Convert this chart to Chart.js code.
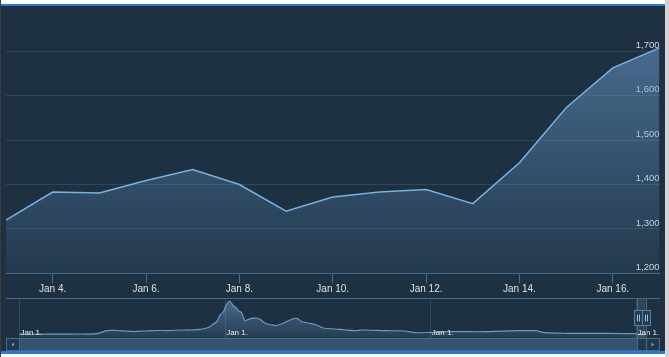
<!DOCTYPE html>
<html><head><meta charset="utf-8">
<script src="https://cdn.jsdelivr.net/npm/chart.js@4/dist/chart.umd.min.js"></script>
<style>
html,body{margin:0;padding:0;background:#fff;overflow:hidden}
body{width:669px;height:357px;position:relative;font-family:"Liberation Sans",Arial,sans-serif}
#frame{position:absolute;left:1px;top:6px;width:664px;height:345px;background:#1d3142}
#topbar{position:absolute;left:1px;top:4px;width:664px;height:2px;background:#2d7ad2}
#botbar{position:absolute;left:1px;top:351px;width:664px;height:3px;background:#2d7ad2}
#ledge{position:absolute;left:0;top:0;width:1px;height:357px;background:#3c3c3c}
#redge{position:absolute;left:665px;top:0;width:4px;height:357px;background:#d4d4d4}
#mainc{position:absolute;left:0;top:6px}
#navc{position:absolute;left:0;top:298px}
</style></head>
<body>
<div id="frame"></div><div id="topbar"></div><div id="botbar"></div><div id="ledge"></div><div id="redge"></div>
<canvas id="mainc" width="665" height="292"></canvas>
<canvas id="navc" width="665" height="53"></canvas>
<script>
// ---- data ----
const mainDays   = [3,4,5,6,7,8,9,10,11,12,13,14,15,16,17];
const mainValues = [1320,1383,1381,1409,1434,1400,1340,1372,1383,1389,1357,1449,1573,1663,1708];
const xTickDays   = [4,6,8,10,12,14,16];
const xTickLabels = ['Jan 4.','Jan 6.','Jan 8.','Jan 10.','Jan 12.','Jan 14.','Jan 16.'];
const yTickValues = [1200,1300,1400,1500,1600,1700];
const yTickLabels = ['1,200','1,300','1,400','1,500','1,600','1,700'];
// navigator history (days since first Jan 1.)
const navHistDays   = [0,36,72,107,138,155,173,187,201,223,244,267,285,303,320,329,338,343,350,356,362,366,373,379,385,390,394,400,406,412,420,427,436,448,456,468,480,492,501,508,515,527,539,560,578,595,608,649,684,702,732,768,826,885,915,932,974,1034,1093];
const navHistValues = [1490,1530,1580,1630,1770,3180,3270,3040,2800,3040,3270,3270,3510,3510,3840,4210,5060,6090,7410,10560,12110,14790,17140,15020,13710,12200,11730,7880,8440,9010,9150,8540,6660,5860,5620,6660,8210,9010,7410,7030,6660,5860,4450,3980,3510,3180,3510,3180,3040,2240,2430,2710,2710,3180,3180,2240,1960,1960,1770];
const navTickDays   = [0,365,730,1095];
const navTickLabels = ['Jan 1.','Jan 1.','Jan 1.','Jan 1.'];
const lastYearOffset = 1094;

const navPoints = navHistDays.map((d,i)=>({x:d,y:navHistValues[i]}))
  .concat(mainDays.map((d,i)=>({x:d+lastYearOffset,y:mainValues[i]})));
const selStart = mainDays[0]+lastYearOffset, selEnd = mainDays[mainDays.length-1]+lastYearOffset;

const AXIS='#49698a', GRID='#2c475c', FONT='"Liberation Sans", Arial, sans-serif';

function grad(ctx, top, bot){
  const {chart}=ctx; const ca=chart.chartArea; if(!ca) return 'rgba(110,160,210,0.3)';
  const g=chart.ctx.createLinearGradient(0,ca.top,0,ca.bottom);
  g.addColorStop(0,`rgba(110,160,210,${top})`); g.addColorStop(1,`rgba(110,160,210,${bot})`);
  return g;
}
const noPad = s=>{s.paddingTop=0;s.paddingBottom=0;s.paddingLeft=0;s.paddingRight=0;};

new Chart(document.getElementById('mainc'),{
  type:'line',
  data:{datasets:[{data:mainDays.map((d,i)=>({x:d,y:mainValues[i]})),
    borderColor:'#7ab0e2',borderWidth:1.5,pointRadius:0,tension:0,fill:'start',
    backgroundColor:c=>grad(c,0.6,0.08)}]},
  options:{responsive:false,animation:false,events:[],
    layout:{padding:{left:6,right:5.5,top:1,bottom:0}},
    plugins:{legend:{display:false},tooltip:{enabled:false}},
    scales:{
      x:{type:'linear',min:mainDays[0],max:mainDays[mainDays.length-1],
        afterBuildTicks:s=>{s.ticks=xTickDays.map(v=>({value:v}));},
        afterFit:s=>{s.height=24.7;noPad(s);},
        grid:{drawOnChartArea:false,drawTicks:true,tickLength:10,tickColor:AXIS,tickWidth:1},
        border:{color:AXIS,width:1},
        ticks:{autoSkip:false,maxRotation:0,padding:0,color:'#dde1e6',font:{family:FONT,size:10},
          callback:(v,i)=>xTickLabels[i]}},
      y:{type:'linear',position:'right',min:1200,max:1800,
        afterBuildTicks:s=>{s.ticks=yTickValues.map(v=>({value:v}));},
        afterFit:s=>{s.width=0;noPad(s);},
        grid:{color:GRID,drawTicks:false},
        border:{display:false},
        ticks:{mirror:true,padding:0,labelOffset:-6,color:'#d4d8dd',font:{family:FONT,size:9.5},
          callback:(v,i)=>yTickLabels[i]}}
    }}
});

const navPlugin={id:'navdeco',
  afterDraw(chart){
    const c=chart.ctx, xs=chart.scales.x;
    const x1=xs.getPixelForValue(selStart), x2=xs.getPixelForValue(selEnd);
    const sy=40, sh=13;
    c.save();
    // mask over the navigator series
    c.fillStyle='rgba(255,255,255,0.10)';c.fillRect(x1,1,x2-x1,sy-1);
    // outline top
    c.strokeStyle=AXIS;c.lineWidth=1;
    c.beginPath();c.moveTo(6,0.5);c.lineTo(660,0.5);c.stroke();
    // labels
    c.font='8px '+FONT;c.fillStyle='#e8ecf0';c.textBaseline='alphabetic';c.textAlign='left';
    navTickDays.forEach((d,i)=>{c.fillText(navTickLabels[i],xs.getPixelForValue(d)+1,37);});
    // scrollbar track
    c.fillStyle='#34546e';c.fillRect(6,sy,654,sh);
    // thumb
    c.fillStyle='#22394c';c.fillRect(x1,sy,x2-x1,sh);
    // buttons
    c.fillStyle='#22394c';c.fillRect(6,sy,13.5,sh);c.fillRect(x2,sy,660-x2,sh);
    c.strokeStyle=AXIS;
    c.strokeRect(6.5,sy+0.5,653,sh-1);
    c.beginPath();c.moveTo(19.5,sy);c.lineTo(19.5,sy+sh);c.stroke();
    // selection edges
    c.beginPath();
    c.moveTo(Math.round(x1)-0.5,1);c.lineTo(Math.round(x1)-0.5,sy+sh);
    c.moveTo(Math.round(x2)+0.5,1);c.lineTo(Math.round(x2)+0.5,sy+sh);
    c.stroke();
    c.fillStyle='#8a9bb0';
    c.beginPath();c.moveTo(11.5,sy+6.5);c.lineTo(14,sy+4.5);c.lineTo(14,sy+8.5);c.fill();
    c.beginPath();c.moveTo(654,sy+6.5);c.lineTo(651.5,sy+4.5);c.lineTo(651.5,sy+8.5);c.fill();
    // handles
    [x1,x2].forEach(x=>{
      const hx=Math.round(x-4)+0.5, hy=12.5;
      c.fillStyle='#1f3d56';c.fillRect(hx,hy,8,15);
      c.strokeStyle='#5f7f9c';c.strokeRect(hx,hy,8,15);
      c.strokeStyle='#a8bccd';c.beginPath();
      c.moveTo(hx+3,hy+4);c.lineTo(hx+3,hy+11);c.moveTo(hx+5,hy+4);c.lineTo(hx+5,hy+11);c.stroke();
    });
    c.restore();
  }};

new Chart(document.getElementById('navc'),{
  type:'line',
  data:{datasets:[{data:navPoints,borderColor:'#7199bf',borderWidth:1.2,pointRadius:0,tension:0.3,fill:'start',
    backgroundColor:c=>grad(c,0.55,0.1)}]},
  options:{responsive:false,animation:false,events:[],
    layout:{padding:{left:19.5,right:19.5,top:0,bottom:13}},
    plugins:{legend:{display:false},tooltip:{enabled:false}},
    scales:{
      x:{type:'linear',min:0,max:selEnd,
        afterBuildTicks:s=>{s.ticks=navTickDays.map(v=>({value:v}));},
        afterFit:s=>{s.height=0;noPad(s);},
        grid:{color:'#2f4b62',drawTicks:false},border:{display:false},
        ticks:{display:false}},
      y:{type:'linear',min:-250,max:18550,display:false,afterFit:noPad}
    }},
  plugins:[navPlugin]
});
</script>
</body></html>
